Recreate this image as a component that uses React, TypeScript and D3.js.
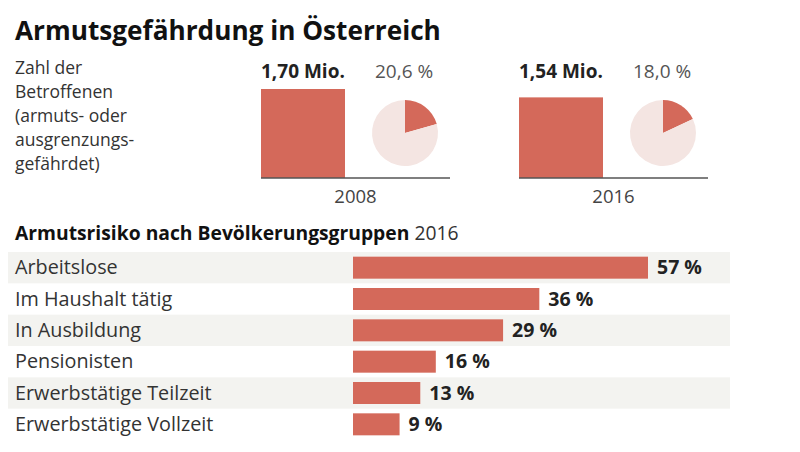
import React from "react";
import * as d3 from "d3";

const years = ["2008", "2016"];
const affected = [1.7, 1.54];
const affectedLabels = ["1,70 Mio.", "1,54 Mio."];
const shares = [20.6, 18.0];
const shareLabels = ["20,6 %", "18,0 %"];
const introLines = ["Zahl der", "Betroffenen", "(armuts- oder", "ausgrenzungs-", "gefährdet)"];

const groups = [
  "Arbeitslose",
  "Im Haushalt tätig",
  "In Ausbildung",
  "Pensionisten",
  "Erwerbstätige Teilzeit",
  "Erwerbstätige Vollzeit",
];
const risk = [57, 36, 29, 16, 13, 9];
const riskLabels = ["57 %", "36 %", "29 %", "16 %", "13 %", "9 %"];

const RED = "#d4695a";
const PALE = "#f4e5e2";
const ROWBG = "#f3f3f0";
const FONT = "'Open Sans', sans-serif";

export default function App() {
  const W = 800, H = 452;
  const gx = d3.scaleBand<string>().domain(years).range([261, 777]).paddingInner(0);
  const yTop = d3.scaleLinear().domain([0, 1.7]).range([178, 89]);
  const pie = d3.pie<number>().sort(null).value((d) => d);
  const arc = d3.arc<d3.PieArcDatum<number>>().innerRadius(0).outerRadius(33);

  const xB = d3.scaleLinear().domain([0, 57]).range([353, 648]);
  const yB = d3.scaleBand<string>().domain(groups).range([252, 440]).padding(0);
  const barH = 22;

  return (
    <svg width={W} height={H} style={{ position: "absolute", left: 0, top: 0, background: "#fff" }} fontFamily={FONT}>
      <text x={15} y={40} fontSize={26.2} fontWeight={700} fill="#111">Armutsgefährdung in Österreich</text>
      {introLines.map((l, i) => (
        <text key={l} x={15} y={74 + i * 24} fontSize={17.5} fill="#333">{l}</text>
      ))}
      {years.map((yr, i) => {
        const x0 = gx(yr)!;
        const arcs = pie([shares[i], 100 - shares[i]]);
        return (
          <g key={yr}>
            <rect x={x0} y={yTop(affected[i])} width={84} height={yTop(0) - yTop(affected[i])} fill={RED} />
            <text x={x0} y={78} fontSize={19} fontWeight={700} fill="#222">{affectedLabels[i]}</text>
            <text x={x0 + 114} y={78} fontSize={19} fill="#555">{shareLabels[i]}</text>
            <g transform={`translate(${x0 + 144},133)`}>
              {arcs.map((a, j) => (
                <path key={j} d={arc(a)!} fill={j === 0 ? RED : PALE} />
              ))}
            </g>
            <line x1={x0} x2={x0 + 189} y1={178} y2={178} stroke="#555" strokeWidth={1.5} />
            <text x={x0 + 94.5} y={203} fontSize={18.5} fill="#444" textAnchor="middle">{yr}</text>
          </g>
        );
      })}
      <text x={15} y={240} fontSize={19.3} fill="#111">
        <tspan fontWeight={700}>Armutsrisiko nach Bevölkerungsgruppen</tspan>
        <tspan fill="#333"> 2016</tspan>
      </text>
      {groups.map((g, i) => {
        const y0 = yB(g)!;
        const bw = yB.bandwidth();
        return (
          <g key={g}>
            {i % 2 === 0 && <rect x={8} y={y0} width={722} height={bw} fill={ROWBG} />}
            <text x={15} y={y0 + bw / 2 + 6.5} fontSize={19.8} fill="#333">{g}</text>
            <rect x={xB(0)} y={y0 + (bw - barH) / 2} width={xB(risk[i]) - xB(0)} height={barH} fill={RED} />
            <text x={xB(risk[i]) + 9} y={y0 + bw / 2 + 6.5} fontSize={19.5} fontWeight={700} fill="#222">{riskLabels[i]}</text>
          </g>
        );
      })}
    </svg>
  );
}
